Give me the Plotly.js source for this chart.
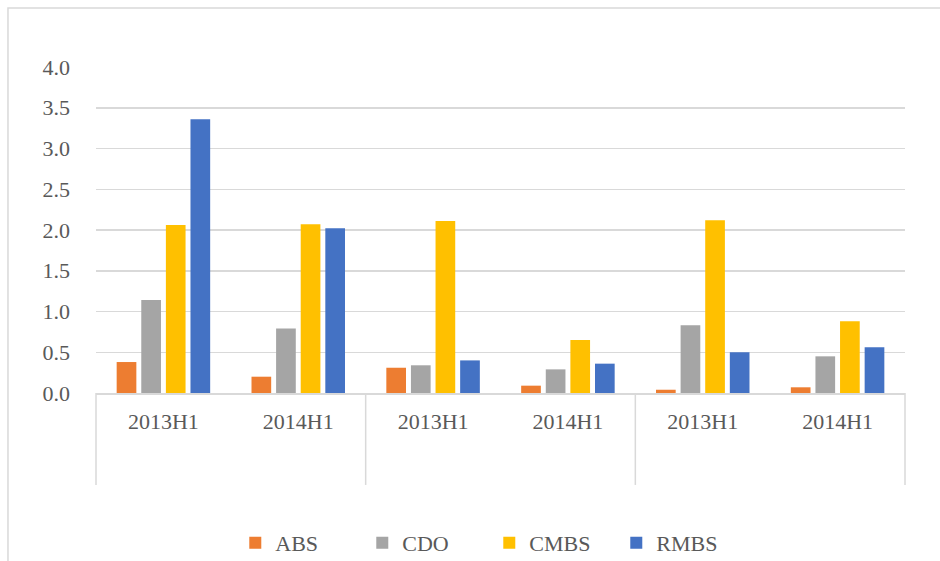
<!DOCTYPE html>
<html>
<head>
<meta charset="utf-8">
<script src="https://cdn.plot.ly/plotly-3.0.1.min.js"></script>
<style>
  html, body { margin: 0; padding: 0; background: #ffffff; }
  #chart { width: 940px; height: 561px; }
</style>
</head>
<body>
<div id="chart"></div>
<script>
// Group labels are blank in the original chart (three groups of two half-years)
const groups = [" ", " ", "  ", "  ", "   ", "   "];
const periods = ["2013H1", "2014H1", "2013H1", "2014H1", "2013H1", "2014H1"];

const seriesNames = ["ABS", "CDO", "CMBS", "RMBS"];
const absValues  = [0.38, 0.20, 0.31, 0.09, 0.04, 0.07];
const cdoValues  = [1.14, 0.79, 0.34, 0.29, 0.83, 0.45];
const cmbsValues = [2.06, 2.07, 2.11, 0.65, 2.12, 0.88];
const rmbsValues = [3.36, 2.02, 0.40, 0.36, 0.50, 0.56];

const colors = ["#ED7D31", "#A5A5A5", "#FFC000", "#4472C4"];
const allValues = [absValues, cdoValues, cmbsValues, rmbsValues];

const yTickVals = [0, 0.5, 1, 1.5, 2, 2.5, 3, 3.5, 4];
const yTickText = ["0.0", "0.5", "1.0", "1.5", "2.0", "2.5", "3.0", "3.5", "4.0"];

const traces = seriesNames.map((name, i) => ({
  type: "bar",
  name: name,
  x: [groups, periods],
  y: allValues[i],
  marker: { color: colors[i] },
  hoverinfo: "skip"
}));

const FONT = "Liberation Serif, serif";
const gridColor = "#d9d9d9";

// divider positions (paper x) at group boundaries
const dividerX = [0, 1/3, 2/3, 1];
const shapes = dividerX.map(xp => ({
  type: "line", xref: "paper", yref: "paper",
  x0: xp, x1: xp, y0: 0, y1: -0.282,
  line: { color: gridColor, width: 1.5 }
}));
// outer chart frame (left and top edges visible)
shapes.push({
  type: "rect", xref: "paper", yref: "paper",
  x0: -0.1088, x1: 3, y0: -3, y1: 1.181,
  line: { color: gridColor, width: 1.5 },
  fillcolor: "rgba(0,0,0,0)", layer: "below"
});

const layout = {
  width: 940, height: 561,
  margin: { l: 96, r: 35, t: 67, b: 168 },
  paper_bgcolor: "#ffffff",
  plot_bgcolor: "#ffffff",
  font: { family: FONT, size: 22, color: "#595959" },
  barmode: "group",
  bargap: 0.27,
  bargroupgap: 0.2,
  showlegend: true,
  legend: {
    orientation: "h",
    xref: "container", yref: "container",
    x: 0.2503, xanchor: "left",
    y: 0.032, yanchor: "middle",
    entrywidth: 82,
    entrywidthmode: "pixels",
    font: { family: FONT, size: 22, color: "#595959" },
    traceorder: "normal"
  },
  xaxis: {
    type: "multicategory",
    showdividers: false,
    showgrid: false,
    showline: true,
    linecolor: gridColor,
    linewidth: 1.5,
    ticks: "",
    ticklabelstandoff: 8,
    tickfont: { family: FONT, size: 22, color: "#595959" },
    automargin: false
  },
  yaxis: {
    range: [0, 4],
    tickvals: yTickVals,
    ticktext: yTickText,
    showgrid: true,
    gridcolor: gridColor,
    gridwidth: 1.5,
    zeroline: false,
    showline: false,
    ticks: "",
    ticklabelstandoff: 25,
    tickfont: { family: FONT, size: 22, color: "#595959" },
    automargin: false
  },
  shapes: shapes
};

Plotly.newPlot("chart", traces, layout, { displayModeBar: false, staticPlot: true });
</script>
</body>
</html>
